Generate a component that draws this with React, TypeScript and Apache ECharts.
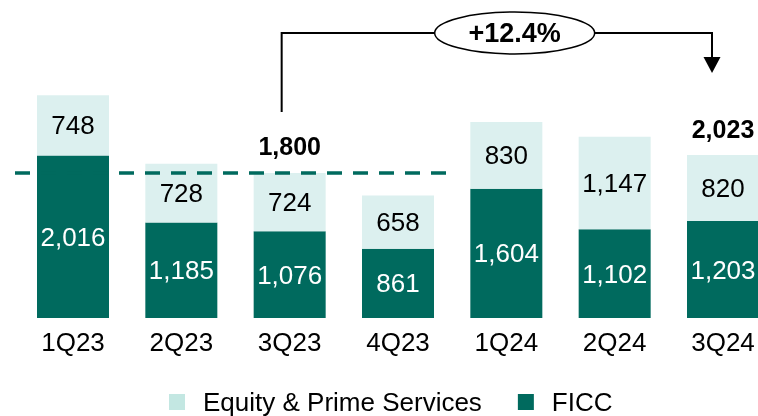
import React, { useEffect, useRef } from "react";
import * as echarts from "echarts";

const categories = ["1Q23", "2Q23", "3Q23", "4Q23", "1Q24", "2Q24", "3Q24"];
const ficc = [2016, 1185, 1076, 861, 1604, 1102, 1203];
const equity = [748, 728, 724, 658, 830, 1147, 820];
const totalShownIdx = [2, 6];
const referenceLevel = 1800;

const FONT = "'Liberation Sans', Arial, sans-serif";
const DARK = "#006A5E";
const LIGHT = "#DCF0EF";
const LIGHT_LEGEND = "#C3E7E2";

const fmt = (v: number) => v.toLocaleString("en-US");

export default function App() {
  const ref = useRef<HTMLDivElement>(null);
  useEffect(() => {
    if (!ref.current) return;
    const chart = echarts.init(ref.current, undefined, { renderer: "svg", width: 758, height: 416 });
    const totals = categories.map((_, i) => ficc[i] + equity[i]);
    const barLabel = (color: string) => ({
      show: true,
      position: "inside",
      color,
      fontSize: 26,
      fontFamily: FONT,
      formatter: (p: any) => fmt(p.value),
    });
    const option: any = {
      animation: false,
      textStyle: { fontFamily: FONT },
      grid: { left: 73, right: 35, top: 36, bottom: 98, containLabel: false },
      legend: {
        left: 164,
        top: 384,
        itemWidth: 16,
        itemHeight: 16,
        itemGap: 36,
        icon: "rect",
        textStyle: { fontSize: 26, color: "#000", fontFamily: FONT, padding: [0, 0, 0, 13] },
        data: [
          { name: "Equity & Prime Services", itemStyle: { color: LIGHT_LEGEND } },
          { name: "FICC", itemStyle: { color: DARK } },
        ],
      },
      xAxis: {
        type: "category",
        data: categories,
        boundaryGap: false,
        axisLine: { show: false },
        axisTick: { show: false },
        axisLabel: { fontSize: 26, color: "#000", margin: 11, fontFamily: FONT },
      },
      yAxis: { type: "value", min: 0, max: 3500, show: false, splitLine: { show: false } },
      series: [
        {
          name: "FICC",
          type: "bar",
          stack: "a",
          barWidth: 72,
          clip: false,
          data: ficc,
          itemStyle: { color: DARK },
          label: barLabel("#fff"),
        },
        {
          name: "Equity & Prime Services",
          type: "bar",
          stack: "a",
          barWidth: 72,
          clip: false,
          data: equity,
          itemStyle: { color: LIGHT },
          label: barLabel("#000"),
        },
        {
          name: "Total",
          type: "bar",
          stack: "a",
          barWidth: 72,
          clip: false,
          silent: true,
          data: categories.map((_, i) => (totalShownIdx.includes(i) ? 0 : "-")),
          itemStyle: { color: "transparent" },
          label: {
            show: true,
            position: "top",
            distance: 14,
            color: "#000",
            fontSize: 25,
            fontWeight: "bold",
            fontFamily: FONT,
            formatter: (p: any) => fmt(totals[p.dataIndex]),
          },
        },
      ],
    };
    chart.setOption(option);

    const [i0, i1] = totalShownIdx;
    const x0 = chart.convertToPixel({ xAxisIndex: 0 }, categories[i0]) as number;
    const x1 = chart.convertToPixel({ xAxisIndex: 0 }, categories[i1]) as number;
    const y0 = chart.convertToPixel({ yAxisIndex: 0 }, totals[i0]) as number;
    const y1 = chart.convertToPixel({ yAxisIndex: 0 }, totals[i1]) as number;
    const yRef = chart.convertToPixel({ yAxisIndex: 0 }, referenceLevel) as number;
    const xRefEnd =
      ((chart.convertToPixel({ xAxisIndex: 0 }, categories[3]) as number) +
        (chart.convertToPixel({ xAxisIndex: 0 }, categories[4]) as number)) /
      2;

    const lx = x0 - 8;
    const rx = x1 - 11;
    const topY = 33;
    const growth = ((totals[i1] / totals[i0] - 1) * 100).toFixed(1);
    const ecx = lx + 233;

    chart.setOption({
      graphic: [
        {
          type: "line",
          z: 10,
          shape: { x1: 15, y1: yRef, x2: xRefEnd + 2, y2: yRef },
          style: { stroke: DARK, lineWidth: 3.5, lineDash: [15, 11] },
        },
        {
          type: "polyline",
          z: 10,
          shape: { points: [[lx, y0 - 61], [lx, topY], [rx, topY], [rx, y1 - 98]] },
          style: { stroke: "#000", lineWidth: 2, fill: null },
        },
        {
          type: "polygon",
          z: 10,
          shape: { points: [[rx - 8.5, y1 - 98], [rx + 8.5, y1 - 98], [rx, y1 - 82]] },
          style: { fill: "#000" },
        },
        {
          type: "ellipse",
          z: 11,
          shape: { cx: ecx, cy: topY, rx: 80, ry: 21 },
          style: { fill: "#fff", stroke: "#000", lineWidth: 1.5 },
        },
        {
          type: "text",
          z: 12,
          x: ecx,
          y: topY,
          style: {
            text: `+${growth}%`,
            fontSize: 27,
            fontWeight: "bold",
            fontFamily: FONT,
            fill: "#000",
            align: "center",
            verticalAlign: "middle",
          },
        },
      ],
    });

    return () => chart.dispose();
  }, []);
  return (
    <div
      ref={ref}
      style={{ position: "fixed", left: 0, top: 0, width: 758, height: 416, overflow: "hidden" }}
    />
  );
}
